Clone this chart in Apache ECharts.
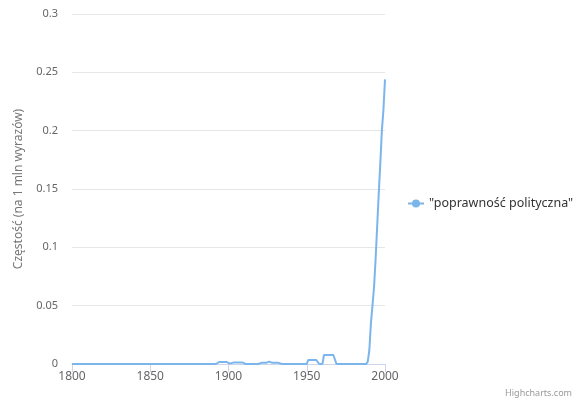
<!DOCTYPE html>
<html>
<head>
<meta charset="utf-8">
<script src="https://cdn.jsdelivr.net/npm/echarts@6/dist/echarts.min.js"></script>
<style>
  html, body { margin: 0; padding: 0; background: #fff; }
  #chart { width: 580px; height: 404px; }
</style>
</head>
<body>
<div id="chart"></div>
<script>
// lata i częstości
const years = [1800, 1892, 1894, 1899, 1901, 1903, 1909, 1911, 1919, 1921, 1924, 1926, 1928, 1932, 1934,
  1950, 1951, 1956, 1958, 1960, 1961, 1967, 1969, 1988, 1989, 1990, 1991, 1992, 1993, 1994,
  1995, 1996, 1997, 1998, 1999, 2000];
const values = [0, 0, 0.0017, 0.0017, 0.0003, 0.0012, 0.0012, 0, 0, 0.001, 0.001, 0.002, 0.001, 0.001, 0,
  0, 0.0035, 0.0035, 0, 0, 0.0077, 0.0077, 0, 0, 0.002, 0.012, 0.035, 0.05, 0.066, 0.09,
  0.118, 0.146, 0.172, 0.2, 0.218, 0.244];
const seriesName = '"poprawność polityczna"';
const yTitle = 'Częstość (na 1 mln wyrazów)';

const font = '"Noto Sans", "DejaVu Sans", sans-serif';
const chart = echarts.init(document.getElementById('chart'));

// ikona legendy: linia z kółkiem
const legendIcon = 'path://M0,4 L16,4 L16,6 L0,6 Z M12,5 A4,4 0 1,1 4,5 A4,4 0 1,1 12,5 Z';

chart.setOption({
  animation: false,
  textStyle: { fontFamily: font },
  grid: { left: 72, right: 195, top: 14, bottom: 40 },
  legend: {
    orient: 'vertical',
    left: 403,
    top: 192,
    padding: 5,
    itemWidth: 16,
    itemHeight: 10,
    icon: legendIcon,
    textStyle: { color: '#333', fontSize: 12.5, fontFamily: font },
    data: [seriesName]
  },
  xAxis: {
    type: 'value',
    min: 1800,
    max: 2000,
    interval: 50,
    axisLine: { lineStyle: { color: '#ccd6eb', width: 1 } },
    axisTick: { show: true, length: 8, lineStyle: { color: '#ccd6eb' } },
    axisLabel: { color: '#666', fontSize: 12, margin: 7, formatter: v => String(v) },
    splitLine: { show: false }
  },
  yAxis: {
    type: 'value',
    min: 0,
    max: 0.3,
    interval: 0.05,
    name: yTitle,
    nameLocation: 'middle',
    nameGap: 47,
    nameTextStyle: { color: '#777', fontSize: 12 },
    axisLine: { show: false },
    axisTick: { show: false },
    axisLabel: { color: '#666', fontSize: 11, margin: 14 },
    splitLine: { lineStyle: { color: '#e6e6e6' } }
  },
  series: [{
    name: seriesName,
    type: 'line',
    data: years.map((y, i) => [y, values[i]]),
    showSymbol: false,
    symbol: 'circle',
    itemStyle: { color: '#7cb5ec' },
    lineStyle: { color: '#7cb5ec', width: 2 }
  }],
  graphic: [{
    type: 'text',
    right: 8,
    bottom: 6,
    style: { text: 'Highcharts.com', fill: '#999', fontSize: 9, fontFamily: font }
  }]
});
</script>
</body>
</html>
